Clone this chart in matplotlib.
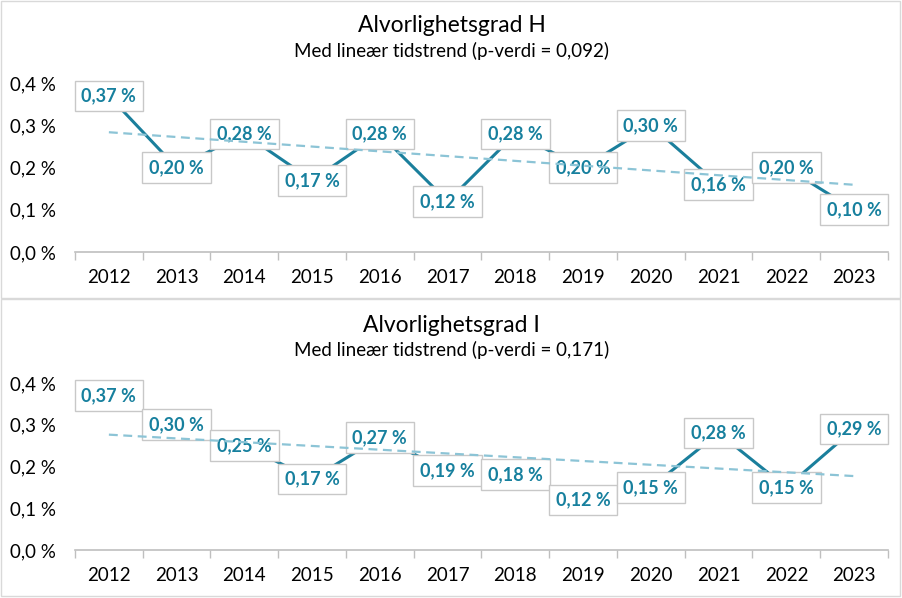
import numpy as np
import matplotlib
matplotlib.use("Agg")
import matplotlib.pyplot as plt
from matplotlib.patches import Rectangle
from matplotlib.ticker import FixedLocator

plt.rcParams['font.family'] = ['Lato', 'DejaVu Sans']

years = [2012, 2013, 2014, 2015, 2016, 2017, 2018, 2019, 2020, 2021, 2022, 2023]
grad_h = [0.37, 0.20, 0.28, 0.17, 0.28, 0.12, 0.28, 0.20, 0.30, 0.16, 0.20, 0.10]
grad_i = [0.37, 0.30, 0.25, 0.17, 0.27, 0.19, 0.18, 0.12, 0.15, 0.28, 0.15, 0.29]
titles = ["Alvorlighetsgrad H", "Alvorlighetsgrad I"]
subtitles = ["Med lineær tidstrend (p-verdi = 0,092)", "Med lineær tidstrend (p-verdi = 0,171)"]
yticks = [0.0, 0.1, 0.2, 0.3, 0.4]

LINE = "#1a7f9c"
TEXT = "#17809e"
TREND = "#8cc4d6"
GRID = "#bfbfbf"
W, H = 903, 598

fig = plt.figure(figsize=(W / 100, H / 100), dpi=100)

# panel frames
for y0, y1 in [(1, 298), (299, 596)]:
    fig.patches.append(Rectangle((1 / W, 1 - y1 / H), 899 / W, (y1 - y0) / H,
                                 transform=fig.transFigure, fill=False,
                                 edgecolor="#d9d9d9", lw=1))

panels = [
    (grad_h, 83.3, 252, 25, 51),
    (grad_i, 383, 550, 325, 350),
]

for k, (vals, ytop, ybot, ty, sty) in enumerate(panels):
    ax = fig.add_axes([75 / W, 1 - ybot / H, 813 / W, (ybot - ytop) / H])
    x = np.arange(len(years))
    ax.plot(x, vals, color=LINE, lw=2.2, zorder=2)

    # linear trend, drawn on top of the labels like in excel
    b, a = np.polyfit(x, vals, 1)
    ax.plot(x, a + b * x, color=TREND, lw=1.6, ls=(0, (4, 2.5)), zorder=5)

    for xi, v in zip(x, vals):
        ax.text(xi, v, f"{v:.2f} %".replace(".", ","), ha="center", va="center",
                color=TEXT, fontsize=13, fontweight="bold", zorder=4,
                clip_on=False,
                bbox=dict(boxstyle="square,pad=0.38", fc="white", ec="#c8c8c8", lw=1))

    ax.set_xlim(-0.5, len(years) - 0.5)
    ax.set_ylim(0, 0.4)
    ax.set_yticks(yticks)
    ax.set_yticklabels([f"{t:.1f} %".replace(".", ",") for t in yticks])
    ax.set_xticks(x)
    ax.set_xticklabels([str(y) for y in years])
    ax.xaxis.set_minor_locator(FixedLocator(np.arange(-0.5, len(years), 1)))
    ax.tick_params(axis="x", which="major", length=0, pad=12, labelsize=13.5)
    ax.tick_params(axis="x", which="minor", length=6, color=GRID, width=1)
    ax.tick_params(axis="y", length=0, pad=14, labelsize=13.5)
    for s in ["top", "right", "left"]:
        ax.spines[s].set_visible(False)
    ax.spines["bottom"].set_color(GRID)
    ax.spines["bottom"].set_linewidth(1.2)
    ax.patch.set_alpha(0)

    fig.text(0.5, 1 - ty / H, titles[k], ha="center", va="center", fontsize=16.5)
    fig.text(0.5, 1 - sty / H, subtitles[k], ha="center", va="center", fontsize=13.5)

fig.savefig("out.png", dpi=100)
